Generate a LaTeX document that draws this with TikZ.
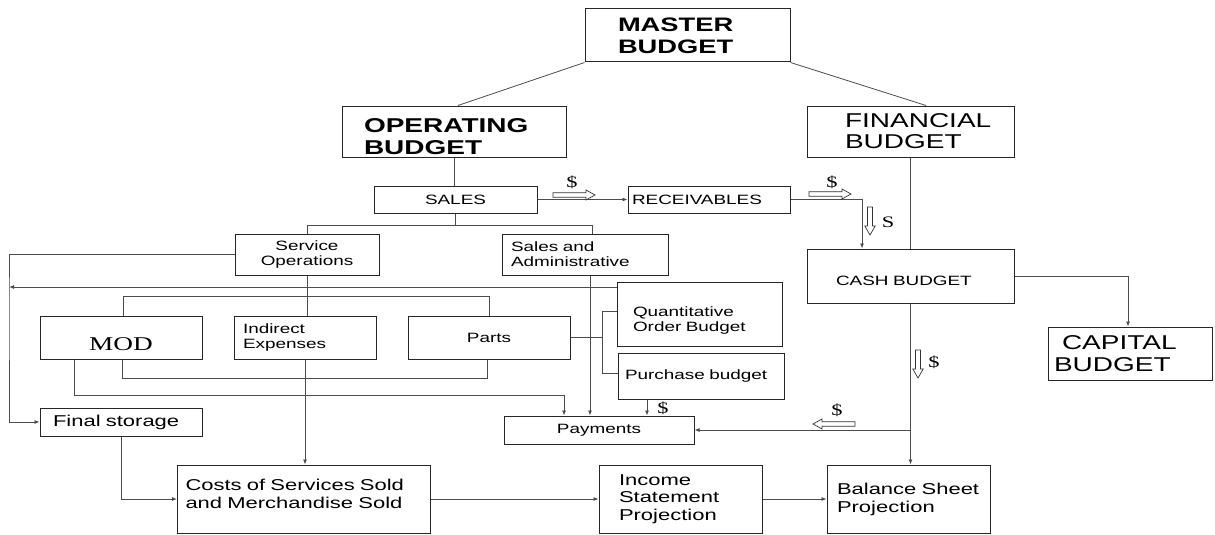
\documentclass[tikz,border=0pt]{standalone}
\usepackage{fontspec}
\setmainfont{Liberation Sans}
\newfontfamily\af[FakeStretch=1.4]{Liberation Sans}
\newfontfamily\serifx[FakeStretch=1.4]{Liberation Serif}
\usetikzlibrary{arrows.meta}
\begin{document}
\begin{tikzpicture}[x=1pt,y=-1pt,
  bx/.style={draw=black!85, line width=1pt, fill=white, inner xsep=0pt, inner ysep=0pt, anchor=center},
  fs/.style 2 args={font=\af\fontsize{#1}{#2}\selectfont},
  ind/.style={align=left, execute at begin node={\leftskip=#1\relax}},
  ln/.style={draw=black!70, line width=0.8pt},
  arr/.style={ln, -{Latex[length=5pt,width=4pt]}},
  holl/.style={draw=black!80, line width=0.7pt, fill=white},
  harrL/.pic={\path[holl] (0,-2.3) -- (33,-2.3) -- (33,-5) -- (42,0) -- (33,5) -- (33,2.3) -- (0,2.3) -- cycle;},
  harrS/.pic={\path[holl] (0,-2.5) -- (19,-2.5) -- (19,-5.2) -- (28,0) -- (19,5.2) -- (19,2.5) -- (0,2.5) -- cycle;},
  dol/.style={font=\serifx\fontsize{16}{16}\selectfont, inner sep=0pt}
]
\useasboundingbox (0,0) rectangle (1215,535);
\fill[white] (0,0) rectangle (1215,535);

% boxes
\node[bx, minimum width=205pt, minimum height=53pt, text width=205pt, ind=33pt, fs={19.5}{22}] (master) at (687.5,35.5) {\bfseries MASTER\\BUDGET};
\node[bx, minimum width=224pt, minimum height=51pt, text width=224pt, ind=22pt, fs={20}{22}] (oper) at (454,131.5) {\bfseries\rule{0pt}{25pt}OPERATING\\BUDGET};
\node[bx, minimum width=207pt, minimum height=51pt, text width=207pt, ind=38pt, fs={20}{21}] (fin) at (910.5,131.5) {FINANCIAL\\BUDGET};
\node[bx, minimum width=163pt, minimum height=27pt, text width=163pt, align=center, fs={13.5}{15}] (sales) at (455.5,199.5) {SALES};
\node[bx, minimum width=162pt, minimum height=27pt, text width=162pt, ind=4pt, fs={13.5}{15}] (recv) at (709,199.5) {RECEIVABLES};
\node[bx, minimum width=144pt, minimum height=41pt, text width=144pt, align=center, fs={13.5}{15}] (servop) at (307,254.5) {Service\\Operations};
\node[bx, minimum width=166pt, minimum height=41pt, text width=166pt, ind=9pt, fs={13.5}{15}] (salesadm) at (585,254.5) {Sales and\\Administrative};
\node[bx, minimum width=207pt, minimum height=54pt, text width=207pt, ind=29pt, fs={13.5}{15}] (cash) at (910.5,276) {\rule{0pt}{20pt}CASH BUDGET};
\node[bx, minimum width=164pt, minimum height=53pt, text width=164pt, ind=6pt, fs={20}{22}] (capital) at (1130,353.5) {\hspace*{8pt}CAPITAL\\BUDGET};
\node[bx, minimum width=162pt, minimum height=43pt, text width=162pt, align=center, font=\serifx\fontsize{19.5}{20}\selectfont] (mod) at (121,337.5) {\rule{0pt}{27pt}MOD};
\node[bx, minimum width=142pt, minimum height=43pt, text width=142pt, ind=9pt, fs={13.5}{15}] (indirect) at (305,337.5) {Indirect\\Expenses};
\node[bx, minimum width=162pt, minimum height=43pt, text width=162pt, align=center, fs={13.5}{15}] (parts) at (489,337.5) {Parts};
\node[bx, minimum width=165pt, minimum height=64pt, text width=165pt, ind=16pt, fs={13.5}{15}] (quant) at (699.5,314) {\rule{0pt}{22pt}Quantitative\\Order Budget};
\node[bx, minimum width=166pt, minimum height=46pt, text width=166pt, ind=7pt, fs={13.5}{15}] (purch) at (701,376) {Purchase budget};
\node[bx, minimum width=190pt, minimum height=28pt, text width=190pt, align=center, fs={13.5}{15}] (pay) at (599,430) {Payments};
\node[bx, minimum width=162pt, minimum height=28pt, text width=162pt, ind=13pt, fs={15.7}{18}] (final) at (121,422) {Final storage};
\node[bx, minimum width=253pt, minimum height=68pt, text width=253pt, ind=8pt, fs={15.7}{18}] (costs) at (304,499) {Costs of Services Sold\\and Merchandise Sold\rule[-11pt]{0pt}{0pt}};
\node[bx, minimum width=163pt, minimum height=68pt, text width=163pt, ind=20pt, fs={15.7}{17.5}] (income) at (680.5,499) {Income\\Statement\\Projection};
\node[bx, minimum width=163pt, minimum height=68pt, text width=163pt, ind=10pt, fs={15.7}{18}] (balance) at (908.5,499) {Balance Sheet\\Projection};

% helper coordinates
\coordinate (b1) at (455.5,225);
\coordinate (b2) at (300,296);
\coordinate (b3) at (300,378);
\coordinate (L) at (9,300);
\coordinate (L2) at (9,287);
\coordinate (c13) at (564,395);
\coordinate (v) at (602,337.5);

% connectors
\draw[ln] (master.south west) -- ([xshift=4pt]oper.north);
\draw[ln] (master.south east) -- ([xshift=15.5pt]fin.north);
\draw[ln] (oper.south) -- (oper.south |- sales.north);
\draw[arr] (sales.east) -- (recv.west);
\draw[arr] (recv.east) -| ([xshift=-48.5pt]cash.north);
\draw[ln] (fin.south) -- (cash.north);
\draw[ln] (sales.south) -- (sales.south |- b1);
\draw[ln] (servop.north) |- ([xshift=7pt]salesadm.north |- b1) -- ([xshift=7pt]salesadm.north);
\draw[arr] (servop.west) -| (L) |- (final.west);
\draw[arr] ([yshift=27pt]quant.west) -- (L2);
\draw[ln] (servop.south) -- (servop.south |- indirect.north);
\draw[ln] ([xshift=2pt]mod.north) |- (parts.north |- b2) -- (parts.north);
\draw[ln] ([xshift=1pt]mod.south) |- ([xshift=-2pt]parts.south |- b3) -- ([xshift=-2pt]parts.south);
\draw[arr] (indirect.south) -- (indirect.south |- costs.north);
\draw[arr] ([xshift=-47pt]mod.south) |- (c13) -- (c13 |- pay.north);
\draw[arr] ([xshift=5pt]salesadm.south) -- ([xshift=5pt]salesadm.south |- pay.north);
\draw[ln] (parts.east) -- (v);
\draw[ln] ([yshift=3pt]quant.west) -| (v);
\draw[ln] ([yshift=3pt]purch.west) -| (v);
\draw[arr] ([xshift=-54pt]purch.south) -- ([xshift=-54pt]purch.south |- pay.north);
\draw[arr] (cash.south) -- (cash.south |- balance.north);
\draw[arr] (cash.south |- pay.east) -- (pay.east);
\draw[arr] (cash.east) -| ([xshift=-2pt]capital.north);
\draw[arr] (final.south) |- (costs.west);
\draw[arr] (costs.east) -- (income.west);
\draw[arr] (income.east) -- (balance.west);

% hollow money-flow arrows
\coordinate (h1a) at (553,195);
\coordinate (h2a) at (809,194);
\coordinate (h3a) at (870,207);
\coordinate (h4a) at (918,350);
\coordinate (h5a) at (855,424);
\pic at (h1a) {harrL};
\pic at (h2a) {harrL};
\pic[rotate=-90] at (h3a) {harrS};
\pic[rotate=-90] at (h4a) {harrS};
\pic[rotate=180] at (h5a) {harrL};
\node[dol] (d1) at (572,182) {\$};
\node[dol] (d2) at (832,182) {\$};
\node[dol] (d3) at (888,222) {S};
\node[dol] (d4) at (934,362) {\$};
\node[dol] (d5) at (837,410) {\$};
\node[dol] (d6) at (663,408) {\$};
\end{tikzpicture}
\end{document}
